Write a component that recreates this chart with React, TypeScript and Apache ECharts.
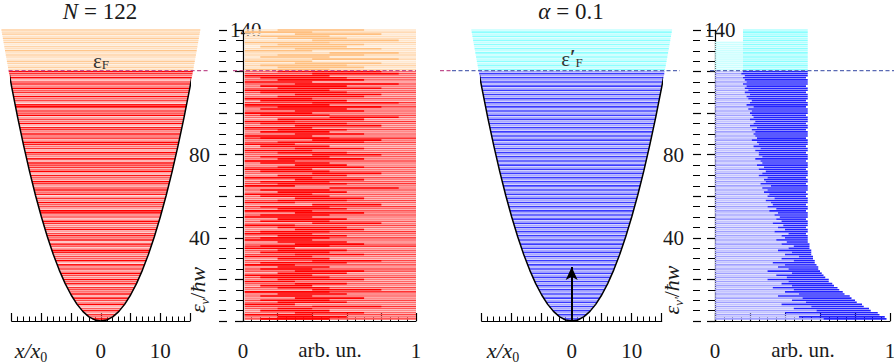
import React, { useEffect, useRef } from "react";
import * as echarts from "echarts";

// ---------------- data ----------------
const particleCount = 122;
const alphaValue = 0.1;
const fermiEnergy = 120.5;
const arrowTop = 26;

// potential V(x) = x^2/2, samples (half, mirrored)
const potHalfX = [0, 1, 2, 3, 4, 5, 6, 7, 8, 9, 10, 11, 12, 13, 14, 15, 16, 16.73];
const potHalfE = [0, 0.5, 2, 4.5, 8, 12.5, 18, 24.5, 32, 40.5, 50, 60.5, 72, 84.5, 98, 112.5, 128, 140];

const xTickLabels = [0, 10];
const arbTickLabels = [0, 1];
const yTickLabels = [40, 80];
const yTopLabel = 140;

// panel A: shading (0..9) of occupied levels (E = 1..120) and empty levels (121..140)
const redA = [
  9, 4, 7, 2, 8, 5, 1, 9, 3, 6,
  8, 2, 9, 4, 6, 7, 1, 8, 5, 9,
  3, 6, 9, 2, 7, 4, 8, 1, 9, 5,
  6, 3, 8, 9, 2, 5, 7, 1, 9, 4,
  8, 6, 2, 9, 5, 3, 7, 9, 1, 6,
  4, 8, 9, 2, 6, 5, 9, 3, 7, 1,
  8, 4, 9, 6, 2, 7, 9, 3, 5, 8,
  1, 9, 4, 7, 6, 9, 2, 8, 3, 5,
  9, 1, 7, 4, 8, 9, 2, 6, 5, 9,
  3, 7, 8, 1, 9, 4, 6, 2, 9, 5,
  7, 3, 9, 8, 1, 6, 4, 9, 2, 7,
  5, 9, 3, 8, 6, 1, 9, 4, 7, 9,
];
const orangeA = [3, 6, 2, 5, 7, 1, 4, 6, 2, 8, 3, 5, 1, 6, 4, 7, 2, 5, 3, 6];

// panel B: base shade and dark segment [start,end] (tenths of arb. un.)
const bBase = [
  5, 3, 6, 4, 2, 5, 7, 3, 4, 6,
  2, 5, 4, 7, 3, 6, 2, 5, 4, 3,
  6, 4, 2, 5, 7, 3, 5, 4, 6, 2,
  4, 6, 3, 5, 2, 7, 4, 3, 5, 6,
  3, 5, 7, 2, 4, 6, 3, 5, 2, 4,
  6, 3, 5, 4, 7, 2, 5, 6, 3, 4,
  5, 2, 6, 4, 3, 7, 5, 3, 6, 2,
  4, 5, 3, 6, 2, 4, 7, 3, 5, 4,
  6, 3, 5, 2, 4, 6, 3, 7, 4, 5,
  2, 6, 4, 3, 5, 7, 2, 4, 6, 3,
  5, 4, 6, 3, 7, 2, 5, 4, 3, 6,
  4, 5, 3, 6, 2, 4, 5, 3, 6, 4,
];
const bStart = [
  1, 2, 0, 3, 1, 2, 4, 0, 2, 1,
  3, 1, 2, 0, 4, 2, 1, 3, 0, 2,
  1, 0, 2, 3, 1, 2, 0, 1, 4, 2,
  0, 3, 1, 2, 0, 1, 3, 2, 0, 1,
  2, 0, 1, 3, 2, 0, 4, 1, 2, 0,
  1, 3, 0, 2, 1, 4, 0, 2, 3, 1,
  0, 2, 1, 5, 0, 2, 1, 3, 0, 2,
  4, 1, 0, 2, 3, 1, 0, 2, 1, 4,
  2, 0, 3, 1, 0, 2, 4, 1, 0, 3,
  1, 2, 0, 3, 1, 0, 2, 5, 1, 0,
  3, 1, 2, 0, 4, 1, 0, 2, 3, 1,
  0, 2, 1, 3, 0, 2, 1, 0, 4, 2,
];
const bEnd = [
  5, 6, 4, 7, 5, 4, 8, 3, 6, 5,
  7, 4, 6, 5, 8, 5, 4, 6, 3, 7,
  5, 4, 6, 7, 4, 5, 3, 6, 8, 5,
  4, 7, 5, 6, 3, 5, 7, 6, 4, 5,
  6, 4, 5, 7, 6, 3, 8, 5, 6, 4,
  5, 7, 4, 6, 5, 8, 3, 6, 7, 5,
  4, 6, 5, 9, 3, 6, 5, 7, 4, 6,
  8, 5, 4, 7, 6, 5, 3, 7, 5, 8,
  6, 4, 7, 5, 3, 7, 8, 5, 4, 7,
  5, 6, 4, 8, 6, 3, 7, 9, 5, 4,
  7, 6, 8, 5, 9, 6, 4, 7, 8, 6,
  5, 8, 6, 9, 4, 7, 6, 5, 9, 8,
];
const oBase = [4, 2, 5, 3, 1, 4, 2, 5, 3, 2, 4, 1, 3, 5, 2, 4, 3, 1, 4, 2];
const oStart = [0, 2, 1, 3, 0, 4, 1, 2, 5, 0, 3, 1, 2, 0, 4, 2, 1, 3, 0, 2];
const oEnd = [5, 7, 6, 8, 4, 9, 5, 7, 9, 4, 8, 6, 7, 5, 9, 6, 5, 8, 4, 7];

// panel D: occupied line length and light/dark boundary (hundredths of arb. un.)
const dLength = [
  98, 97, 94, 93, 89, 88, 85, 84, 81, 80,
  78, 77, 74, 73, 71, 70, 68, 67, 65, 65,
  63, 62, 61, 60, 59, 59, 58, 57, 57, 56,
  56, 55, 55, 55, 54, 54, 54, 53, 53, 53,
  53, 52, 53, 53, 52, 53, 53, 53, 52, 53,
  53, 53, 52, 53, 53, 52, 53, 53, 53, 52,
  53, 52, 53, 53, 53, 52, 53, 53, 52, 53,
  53, 53, 52, 53, 53, 53, 52, 53, 53, 53,
  52, 53, 53, 52, 53, 53, 53, 52, 53, 53,
  53, 52, 53, 53, 52, 53, 53, 53, 52, 53,
  53, 53, 52, 53, 53, 52, 53, 53, 53, 52,
  53, 53, 52, 53, 53, 53, 52, 53, 53, 53,
];
const dBoundary = [
  62, 48, 60, 40, 58, 45, 55, 38, 52, 44,
  50, 36, 48, 40, 45, 33, 44, 38, 42, 30,
  41, 35, 44, 30, 42, 36, 40, 33, 45, 38,
  48, 40, 44, 36, 42, 45, 38, 41, 35, 40,
  38, 42, 34, 40, 36, 39, 33, 38, 35, 37,
  34, 36, 31, 35, 30, 33, 32, 29, 34, 30,
  31, 28, 30, 27, 32, 26, 29, 28, 30, 25,
  27, 29, 25, 28, 24, 27, 26, 23, 27, 25,
  25, 23, 26, 22, 25, 24, 21, 24, 23, 22,
  23, 21, 24, 20, 22, 23, 20, 22, 21, 20,
  21, 19, 22, 18, 20, 21, 19, 18, 20, 17,
  19, 17, 18, 16, 18, 17, 16, 17, 15, 16,
];
const dCyanLightStart = [0, 0, 0, 0, 0, 0, 0, 0, 0, 0, 0, 0, 0, 0, 16, 16, 16, 16, 16, 16];
const dCyanEnd = 53;
const dCyanSplit = 16;

// ---------------- helpers ----------------
const FONT = "Liberation Serif";
function mixHex(a: string, b: string, t: number) {
  const pa = [1, 3, 5].map((i) => parseInt(a.slice(i, i + 2), 16));
  const pb = [1, 3, 5].map((i) => parseInt(b.slice(i, i + 2), 16));
  const c = pa.map((v, k) => Math.round(v + (pb[k] - v) * t));
  return "#" + c.map((v) => v.toString(16).padStart(2, "0")).join("");
}
const redShadeA = (v: number) => mixHex("#ffcccc", "#ff0000", v / 9);
const redShadeB = (v: number) => mixHex("#ffaaaa", "#ff1010", v / 9);
const orangeShade = (v: number) => mixHex("#ffeedd", "#ffc080", v / 9);

const nOcc = redA.length;
const levelsA = redA.concat(orangeA).map((v, i) => [i + 1, v, i < nOcc ? 0 : 1]);
const levelsB = [
  ...bBase.map((v, i) => [i + 1, v, bStart[i] / 10, bEnd[i] / 10, 0]),
  ...oBase.map((v, i) => [nOcc + i + 1, v, oStart[i] / 10, oEnd[i] / 10, 1]),
];
const levelsC = levelsA.map((d) => [d[0], d[2]]);
const levelsD = [
  ...dLength.map((L, i) => [i + 1, L / 100, dBoundary[i] / 100, 0, 0]),
  ...dCyanLightStart.map((s, i) => [nOcc + i + 1, dCyanEnd / 100, dCyanSplit / 100, 1, s / 100]),
];
const potential = [
  ...potHalfX.slice(1).reverse().map((x, i, arr) => [-x, potHalfE[arr.length - i]]),
  ...potHalfX.map((x, i) => [x, potHalfE[i]]),
];

const LW = 1.6;
// level line drawn as a thin filled rect
const bar = (a: number[], b: number[], fill: string, h: number = LW) => ({
  type: "rect",
  shape: { x: Math.min(a[0], b[0]), y: a[1] - h / 2, width: Math.abs(b[0] - a[0]), height: h },
  style: { fill },
});
const dashLine = (x1: number, x2: number, y: number, stroke: string) => ({
  type: "line",
  shape: { x1, y1: y, x2, y2: y },
  style: { stroke, lineWidth: 1.2, lineDash: [4, 2.5] },
});

const textStyle = { fontFamily: FONT, fontSize: 21, color: "#1a1a1a" };

export default function App() {
  const ref = useRef<HTMLDivElement>(null);
  useEffect(() => {
    if (!ref.current) return;
    const chart = echarts.init(ref.current, undefined, { renderer: "svg" });
    const axisLineStyle = { color: "#000", width: 1.2 };
    const xAxisBase = (grid: number, min: number, max: number, interval: number, split: number, labels: number[]) => ({
      gridIndex: grid,
      type: "value",
      min,
      max,
      interval,
      offset: 17,
      axisLine: { show: true, lineStyle: axisLineStyle },
      axisTick: { show: true, inside: true, length: 8, lineStyle: axisLineStyle },
      minorTick: { show: true, splitNumber: split, length: 4.5, lineStyle: { color: "#000", width: 1 } },
      splitLine: { show: false },
      minorSplitLine: { show: false },
      axisLabel: {
        ...textStyle,
        margin: 2,
        formatter: (v: number) => (labels.some((l) => Math.abs(l - v) < 1e-9) ? String(Math.round(v)) : ""),
      },
    });
    const yHidden = (grid: number) => ({ gridIndex: grid, type: "value", min: 0, max: 140, show: false, splitLine: { show: false } });
    const yOuter = (grid: number, offset: number) => ({
      gridIndex: grid,
      type: "value",
      min: 0,
      max: 140,
      interval: 20,
      position: "left",
      offset,
      axisLine: { show: true, lineStyle: axisLineStyle },
      axisTick: { show: true, inside: false, length: 8, lineStyle: axisLineStyle },
      minorTick: { show: true, splitNumber: 4, length: 7, lineStyle: { color: "#000", width: 1 } },
      splitLine: { show: false },
      minorSplitLine: { show: false },
      axisLabel: { ...textStyle, margin: 9, formatter: (v: number) => (yTickLabels.includes(v) ? String(v) : "") },
    });
    const yInner = (grid: number, offset: number) => ({
      gridIndex: grid,
      type: "value",
      min: 0,
      max: 140,
      interval: 20,
      position: "left",
      offset,
      axisLine: { show: false },
      axisTick: { show: true, inside: true, length: 8, lineStyle: axisLineStyle },
      minorTick: { show: true, splitNumber: 4, length: 7, lineStyle: { color: "#000", width: 1 } },
      splitLine: { show: false },
      minorSplitLine: { show: false },
      axisLabel: { ...textStyle, inside: true, margin: 11, formatter: (v: number) => (v === yTopLabel ? String(v) : "") },
    });

    const sub = (size: number) => ({ fontFamily: FONT, fontSize: size, fill: "#333", lineHeight: size, padding: [10, 0, 0, 0], verticalAlign: "bottom" });
    const main = { fontFamily: FONT, fontSize: 21, fill: "#333", lineHeight: 22, verticalAlign: "bottom" };
    const prime = { fontFamily: FONT, fontSize: 20, fontWeight: "bold", fill: "#333", lineHeight: 14, padding: [0, 0, 9, 0], verticalAlign: "top" };

    const option: any = {
      animation: false,
      backgroundColor: "#fff",
      grid: [
        { left: 11.7, top: 30, width: 178.3, height: 291, containLabel: false, outerBoundsMode: "none" },
        { left: 243, top: 30, width: 173, height: 291, containLabel: false, outerBoundsMode: "none" },
        { left: 481.7, top: 30, width: 180, height: 291, containLabel: false, outerBoundsMode: "none" },
        { left: 715, top: 30, width: 175, height: 291, containLabel: false, outerBoundsMode: "none" },
      ],
      xAxis: [
        xAxisBase(0, -15, 15, 5, 5, xTickLabels),
        xAxisBase(1, 0, 1, 0.2, 4, arbTickLabels),
        xAxisBase(2, -15, 15, 5, 5, xTickLabels),
        xAxisBase(3, 0, 1, 0.2, 4, arbTickLabels),
      ],
      yAxis: [yHidden(0), yOuter(1, 24), yInner(1, 24), yHidden(2), yOuter(3, 22), yInner(3, 22)],
      series: [
        {
          type: "custom",
          xAxisIndex: 0,
          yAxisIndex: 0,
          z: 1,
          silent: true,
          data: levelsA,
          renderItem: (_p: any, api: any) => {
            const E = api.value(0);
            const v = api.value(1);
            const kind = api.value(2);
            const hw = Math.sqrt(2 * E);
            const col = kind === 0 ? redShadeA(v) : orangeShade(v);
            return bar(api.coord([-hw, E]), api.coord([hw, E]), col);
          },
        },
        {
          type: "line",
          xAxisIndex: 0,
          yAxisIndex: 0,
          z: 3,
          silent: true,
          data: potential,
          showSymbol: false,
          clip: false,
          lineStyle: { color: "#000", width: 1.5 },
        },
        {
          type: "custom",
          xAxisIndex: 0,
          yAxisIndex: 0,
          z: 5,
          silent: true,
          data: [[0, fermiEnergy]],
          renderItem: (_p: any, api: any) => {
            const E = api.value(1);
            const hw = Math.sqrt(2 * E);
            const p = api.coord([-hw, E]);
            const y = p[1];
            const pink = "#c0508e";
            return {
              type: "group",
              children: [dashLine(p[0], 208, y, pink), dashLine(233, 416, y, pink), dashLine(440, 452, y, pink)],
            };
          },
        },
        {
          type: "custom",
          xAxisIndex: 1,
          yAxisIndex: 1,
          z: 1,
          silent: true,
          data: levelsB,
          renderItem: (_p: any, api: any) => {
            const E = api.value(0);
            const v = api.value(1);
            const s = api.value(2);
            const e = api.value(3);
            const kind = api.value(4);
            const base = kind === 0 ? redShadeB(v) : orangeShade(v);
            const dark = kind === 0 ? "#ff0000" : "#ffbf7f";
            return {
              type: "group",
              children: [
                bar(api.coord([0.01, E]), api.coord([1, E]), base),
                bar(api.coord([Math.max(0.01, s), E]), api.coord([e, E]), dark),
              ],
            };
          },
        },
        {
          type: "custom",
          xAxisIndex: 2,
          yAxisIndex: 3,
          z: 1,
          silent: true,
          data: levelsC,
          renderItem: (p: any, api: any) => {
            const E = api.value(0);
            const kind = api.value(1);
            const hw = Math.sqrt(2 * E);
            const odd = p.dataIndex % 2 === 0;
            const col = kind === 0 ? (odd ? "#3a3aff" : "#a8a8ff") : odd ? "#8cffff" : "#c4ffff";
            return bar(api.coord([-hw, E]), api.coord([hw, E]), col, 1.6);
          },
        },
        {
          type: "line",
          xAxisIndex: 2,
          yAxisIndex: 3,
          z: 3,
          silent: true,
          data: potential,
          showSymbol: false,
          clip: false,
          lineStyle: { color: "#000", width: 1.5 },
          markLine: {
            silent: true,
            symbol: ["none", "arrow"],
            symbolSize: [9, 13],
            lineStyle: { color: "#000", width: 2, type: "solid" },
            label: { show: false },
            data: [[{ coord: [0, 0] }, { coord: [0, arrowTop] }]],
          },
        },
        {
          type: "custom",
          xAxisIndex: 2,
          yAxisIndex: 3,
          z: 5,
          silent: true,
          data: [[0, fermiEnergy]],
          renderItem: (_p: any, api: any) => {
            const E = api.value(1);
            const y = api.coord([0, E])[1];
            const blue = "#5a6ab4";
            return {
              type: "group",
              children: [dashLine(452, 680, y, blue), dashLine(710, 894, y, blue)],
            };
          },
        },
        {
          type: "custom",
          xAxisIndex: 3,
          yAxisIndex: 4,
          z: 1,
          silent: true,
          data: levelsD,
          renderItem: (p: any, api: any) => {
            const E = api.value(0);
            const L = api.value(1);
            const b = api.value(2);
            const kind = api.value(3);
            const even = p.dataIndex % 2 === 0;
            if (kind === 0) {
              return {
                type: "group",
                children: [
                  bar(api.coord([0, E]), api.coord([b, E]), even ? "#a0a0ff" : "#c4c4ff"),
                  bar(api.coord([b, E]), api.coord([L, E]), "#2222ff"),
                ],
              };
            }
            const s = api.value(4);
            const children: any[] = [];
            if (s < b) children.push(bar(api.coord([s, E]), api.coord([b, E]), "#ccffff"));
            children.push(bar(api.coord([b, E]), api.coord([L, E]), even ? "#88ffff" : "#b0ffff"));
            return { type: "group", children };
          },
        },
      ],
      graphic: [
        {
          type: "text",
          x: 100,
          y: 11,
          style: {
            text: `{i|N}{n| = ${particleCount}}`,
            textAlign: "center",
            textVerticalAlign: "middle",
            rich: {
              i: { fontFamily: FONT, fontSize: 23, fontStyle: "italic", fill: "#1a1a1a" },
              n: { fontFamily: FONT, fontSize: 23, fill: "#1a1a1a" },
            },
          },
        },
        {
          type: "text",
          x: 571,
          y: 11,
          style: {
            text: `{i|α}{n| = ${alphaValue}}`,
            textAlign: "center",
            textVerticalAlign: "middle",
            rich: {
              i: { fontFamily: FONT, fontSize: 23, fontStyle: "italic", fill: "#1a1a1a" },
              n: { fontFamily: FONT, fontSize: 23, fill: "#1a1a1a" },
            },
          },
        },
        {
          type: "text",
          x: 101,
          y: 60,
          z: 10,
          style: { text: "{e|ε}{s|F}", textAlign: "center", textVerticalAlign: "middle", rich: { e: main, s: sub(13) } },
        },
        {
          type: "text",
          x: 572,
          y: 58,
          z: 10,
          style: { text: "{e|ε}{p|′}{s|F}", textAlign: "center", textVerticalAlign: "middle", rich: { e: main, p: prime, s: sub(13) } },
        },
        // x/x0 labels
        ...[31, 503].map((x) => ({
          type: "text",
          x,
          y: 350,
          style: {
            text: "{i|x/x}{s|0}",
            textAlign: "center",
            textVerticalAlign: "middle",
            rich: {
              i: { fontFamily: FONT, fontSize: 22, fontStyle: "italic", fill: "#1a1a1a", verticalAlign: "bottom" },
              s: { fontFamily: FONT, fontSize: 14, fill: "#1a1a1a", verticalAlign: "bottom", padding: [0, 0, -3, 0] },
            },
          },
        })),
        ...[330, 803].map((x) => ({
          type: "text",
          x,
          y: 350,
          style: { text: "arb. un.", font: `21px ${FONT}`, fill: "#1a1a1a", textAlign: "center", textVerticalAlign: "middle" },
        })),
        // y-axis titles
        ...[
          { x: 197, sub: "v" },
          { x: 671, sub: "v′" },
        ].map((d) => ({
          type: "text",
          x: d.x,
          y: 290,
          rotation: Math.PI / 2,
          style: {
            text: `{i|ε}{s|${d.sub}}{n|/}{i|ħw}`,
            textAlign: "center",
            textVerticalAlign: "middle",
            rich: {
              i: { fontFamily: FONT, fontSize: 22, fontStyle: "italic", fill: "#1a1a1a", verticalAlign: "bottom" },
              n: { fontFamily: FONT, fontSize: 22, fill: "#1a1a1a", verticalAlign: "bottom" },
              s: { fontFamily: FONT, fontSize: 13, fontStyle: "italic", fill: "#1a1a1a", verticalAlign: "bottom", padding: [0, 0, -3, 0] },
            },
          },
        })),
      ],
    };
    chart.setOption(option);
    return () => chart.dispose();
  }, []);
  return (
    <div
      ref={ref}
      style={{ position: "fixed", left: 0, top: 0, width: 894, height: 364, background: "#fff" }}
    />
  );
}
